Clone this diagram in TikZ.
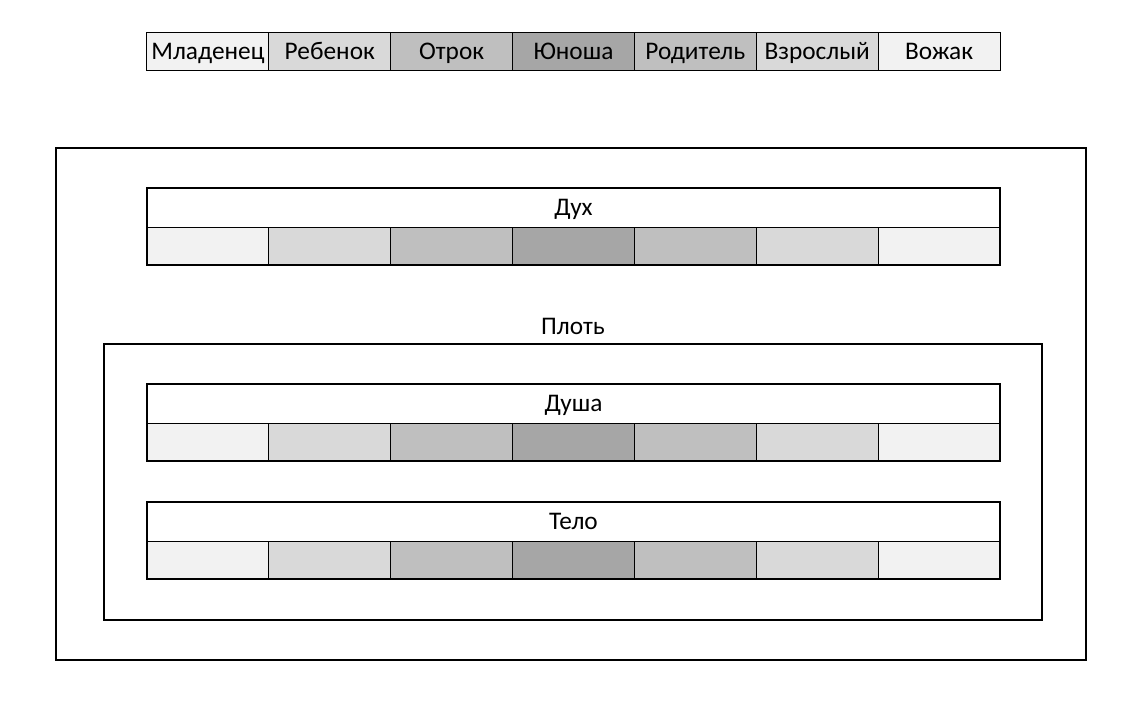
\documentclass[tikz,border=0pt]{standalone}
\usepackage{fontspec}
\setmainfont{Carlito}
\definecolor{shadeA}{HTML}{F2F2F2}
\definecolor{shadeB}{HTML}{D9D9D9}
\definecolor{shadeC}{HTML}{BFBFBF}
\definecolor{shadeD}{HTML}{A6A6A6}
\tikzset{
  stagecell/.style={draw, line width=0.75pt, minimum width=91.4pt, minimum height=28.5pt},
  bandtitle/.style={draw, line width=0.75pt, fill=white, minimum width=640.5pt, minimum height=29.25pt},
  bandframe/.style={line width=1.5pt},
  layerframe/.style={line width=1.5pt}
}
\begin{document}
\begin{tikzpicture}[x=0.75pt,y=-0.75pt,
  every node/.style={font=\fontsize{19}{22}\selectfont, inner sep=0pt, outer sep=0pt,
    text height=12.2pt, text depth=0pt}]
  \useasboundingbox (0,0) rectangle (1138,724);

  % Stage names across the top
  \foreach \name/\shade [count=\i] in {Младенец/shadeA, Ребенок/shadeB, Отрок/shadeC,
      Юноша/shadeD, Родитель/shadeC, Взрослый/shadeB, Вожак/shadeA}
    \node[stagecell, fill=\shade] (stage\i) at ({147+121.86*(\i-0.5)},51.5) {\name};

  % Outer frame and the frame of the flesh
  \draw[layerframe] (56,148) rectangle (1086,660);
  \draw[layerframe] (104,344) rectangle (1042,620);
  \node (plot) at (573,326) {Плоть};

  % Bands: title row over seven shaded cells
  \foreach \band/\title/\top in {dukh/Дух/188, dusha/Душа/384, telo/Тело/502} {
    \node[bandtitle] (\band-title) at (573.5,\top+19.5) {\title};
    \foreach \shade [count=\i] in {shadeA, shadeB, shadeC, shadeD, shadeC, shadeB, shadeA}
      \node[stagecell, fill=\shade] (\band-\i) at ({147+121.86*(\i-0.5)},\top+58) {};
    \draw[bandframe] (\band-title.north west) rectangle (\band-7.south east);
  }
\end{tikzpicture}
\end{document}
